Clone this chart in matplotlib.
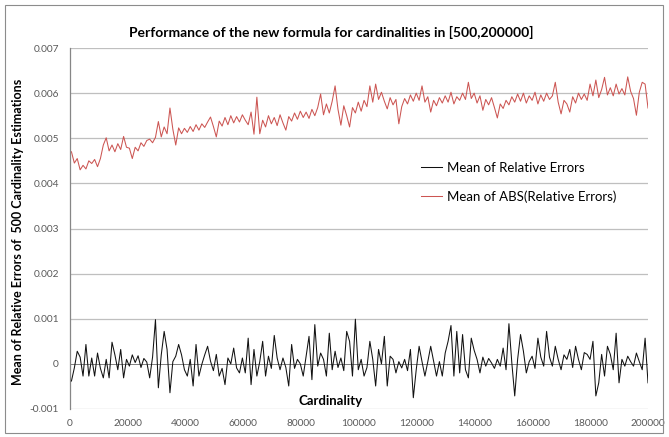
import numpy as np
import matplotlib
matplotlib.use("Agg")
import matplotlib.pyplot as plt
from matplotlib.patches import Rectangle

# ---- data (200 samples over [500, 200000]) ----
mean_rel_err_e4 = [
    -3.8, -0.9, 2.8, 1.5, -2.7, 4.3, -2.7, 1.3, -2.7, 2.4,
    -1.0, -3.1, 1.0, -3.1, 4.8, 2.0, -1.3, 3.2, -3.1, 1.0,
    -0.5, 2.0, 0.3, 1.8, -0.8, 1.2, 0.4, -3.1, 1.5, 9.8,
    -5.3, 2.0, 7.2, 3.2, -6.4, 0.5, 1.7, 4.3, 2.0, -1.3,
    -2.7, 1.0, -4.9, 4.3, -2.7, -0.1, 2.0, 3.9, 0.6, -1.5,
    2.1, -2.7, -1.0, -4.6, 1.3, 0.0, 3.5, -0.9, -2.0, 1.3,
    -2.0, 5.7, -4.6, 3.2, -2.7, 0.5, 5.0, -2.7, 1.7, -1.0,
    6.3, 1.3, -1.3, 1.3, -0.8, -4.9, 4.3, -1.0, 1.0, 0.0,
    -2.7, 1.7, 6.1, -3.5, 8.7, -0.5, 2.4, 1.0, -2.7, 6.8,
    -1.3, 2.8, -0.8, 1.3, -1.5, 7.2, 5.0, -2.7, 9.9, -1.3,
    1.0, -2.7, -0.8, 5.0, 1.0, -4.9, 3.2, 0.0, 6.1, -4.9,
    1.7, 1.0, -2.0, 0.5, -0.9, 1.0, -1.5, 3.2, -7.5, -1.3,
    3.9, 0.5, -2.7, 0.5, 3.9, 0.6, -2.7, 0.5, -2.7, 2.4,
    5.0, 8.5, -2.7, 7.2, -2.0, 6.5, -1.3, -3.1, 5.7, 3.0,
    1.0, -2.0, 1.5, -0.5, 1.2, 0.2, -1.0, 1.0, -0.5, 3.5,
    -1.3, 8.9, 0.2, -7.1, 1.0, 6.5, 2.8, -2.0, 0.5, 1.7,
    -1.0, 5.7, 1.5, -0.5, 7.2, 1.5, -0.5, 3.9, 1.0, -1.3,
    2.0, 1.0, 3.2, -0.8, 3.9, 1.0, -1.3, 2.5, 2.1, 1.0,
    5.0, -7.1, -4.2, 2.1, -2.7, 3.9, 2.1, -1.3, 6.8, -4.2,
    1.0, -0.5, 1.7, 0.5, -0.5, 2.4, 0.5, -1.3, 5.7, -4.2,
]
mean_abs_err_e4 = [
    47.0, 44.5, 45.5, 43.0, 44.0, 43.2, 45.0, 44.4, 45.3, 43.7,
    45.5, 48.5, 50.1, 47.2, 48.5, 47.0, 48.8, 47.5, 50.4, 48.0,
    47.8, 45.5, 48.0, 47.2, 49.0, 48.2, 49.5, 49.8, 49.0, 50.2,
    53.7, 50.3, 52.5, 51.0, 56.7, 52.0, 48.5, 52.3, 51.0, 52.2,
    51.3, 52.6, 51.5, 53.0, 51.8, 53.2, 52.4, 53.6, 54.7, 52.6,
    50.3, 53.8, 52.7, 54.6, 53.0, 55.0, 53.4, 54.8, 53.6, 55.2,
    54.0, 53.0, 55.8, 50.9, 59.1, 51.0, 54.0, 52.5, 55.0, 53.2,
    54.6, 52.8, 55.2, 53.4, 51.8, 54.8, 53.8, 55.6, 54.2, 56.0,
    54.6, 55.8, 54.4, 56.4, 55.0, 56.8, 59.8, 55.2, 57.6, 55.6,
    58.2, 61.6, 56.4, 52.9, 57.2, 55.0, 52.5, 56.8, 55.6, 58.0,
    56.0, 58.4, 57.0, 61.6, 58.0, 62.0, 58.6, 60.2, 58.2, 56.5,
    59.0, 57.4, 58.6, 53.2, 57.0, 58.8, 57.6, 59.6, 58.2, 60.0,
    58.4, 61.6, 58.0, 59.2, 55.8, 58.4, 57.2, 59.0, 57.8, 59.4,
    58.0, 60.2, 57.6, 59.2, 58.4, 60.0, 58.6, 62.4, 58.8, 60.0,
    57.8, 59.4, 56.2, 58.6, 57.4, 59.0, 56.8, 54.5, 57.6, 56.6,
    58.4, 57.4, 59.2, 58.0, 59.8, 58.2, 60.0, 57.8, 59.4, 58.4,
    60.2, 57.6, 59.6, 58.2, 60.0, 58.6, 59.4, 62.4, 58.0, 55.4,
    58.4, 57.6, 55.8, 59.2, 57.8, 60.0, 58.6, 59.8, 58.4, 62.0,
    59.4, 62.9, 59.0, 60.8, 63.5, 59.6, 61.2, 59.4, 62.0, 59.8,
    61.0, 59.6, 63.6, 60.4, 58.8, 55.1, 60.2, 62.4, 62.0, 56.7,
]
card_start, card_end = 500, 200000
x_ticks = [0, 20000, 40000, 60000, 80000, 100000, 120000, 140000, 160000, 180000, 200000]
y_ticks = [-0.001, 0, 0.001, 0.002, 0.003, 0.004, 0.005, 0.006, 0.007]
y_tick_labels = ["-0.001", "0", "0.001", "0.002", "0.003", "0.004", "0.005", "0.006", "0.007"]

title = "Performance of the new formula for cardinalities in [500,200000]"
ylabel = "Mean of Relative Errors of  500 Cardinality Estimations"
xlabel = "Cardinality"
labels = ["Mean of Relative Errors", "Mean of ABS(Relative Errors)"]

rel = np.array(mean_rel_err_e4) * 1e-4
absr = np.array(mean_abs_err_e4) * 1e-4
cards = np.linspace(card_start, card_end, len(rel))

plt.rcParams['font.family'] = ['Lato', 'DejaVu Sans']

W, H = 669, 437
fig = plt.figure(figsize=(W / 100, H / 100), dpi=100)
fig.patch.set_facecolor("white")

# chart border
fig.patches.append(Rectangle((5 / W, 4 / H), 658 / W, 428 / H, transform=fig.transFigure,
                             fill=False, edgecolor="#8c8c8c", linewidth=0.8))

ax = fig.add_axes([70 / W, 1 - 409 / H, 578 / W, (409 - 48) / H])
ax.set_xlim(0, 200000)
ax.set_ylim(-0.001, 0.007)

for yv in y_ticks:
    if yv == 0:
        continue
    ax.axhline(yv, color="#bfbfbf", linewidth=0.9, zorder=0)
ax.axhline(0, color="#808080", linewidth=0.7, zorder=1)

l1, = ax.plot(cards, rel, color="#111111", linewidth=0.75, label=labels[0], zorder=3)
l2, = ax.plot(cards, absr, color="#cc5552", linewidth=0.75, label=labels[1], zorder=2)

for s in ["top", "right", "bottom"]:
    ax.spines[s].set_visible(False)
ax.spines["left"].set_color("#868686")
ax.spines["left"].set_linewidth(0.9)

ax.set_xticks(x_ticks)
ax.set_xticklabels([str(v) for v in x_ticks])
ax.set_yticks(y_ticks)
ax.set_yticklabels(y_tick_labels)
ax.tick_params(axis="both", length=0, labelsize=7.3, labelcolor="#595959")
ax.tick_params(axis="y", pad=8)
ax.tick_params(axis="x", pad=7)

fig.text(331 / W, 1 - 32 / H, title, ha="center", va="center", fontsize=10, fontweight="bold")
fig.text(18 / W, 1 - 232 / H, ylabel, ha="center", va="center", rotation=90,
         fontsize=9, fontweight="bold")
fig.text(331 / W, 1 - 401 / H, xlabel, ha="center", va="center", fontsize=9.5, fontweight="bold")

leg = ax.legend(handles=[l1, l2], loc="upper left", bbox_to_anchor=(414 / W, 1 - 155 / H),
                bbox_transform=fig.transFigure, frameon=False, fontsize=9.5,
                handlelength=1.6, handletextpad=0.4, labelspacing=1.25, borderpad=0)

fig.savefig("out.png", dpi=100, facecolor="white")
